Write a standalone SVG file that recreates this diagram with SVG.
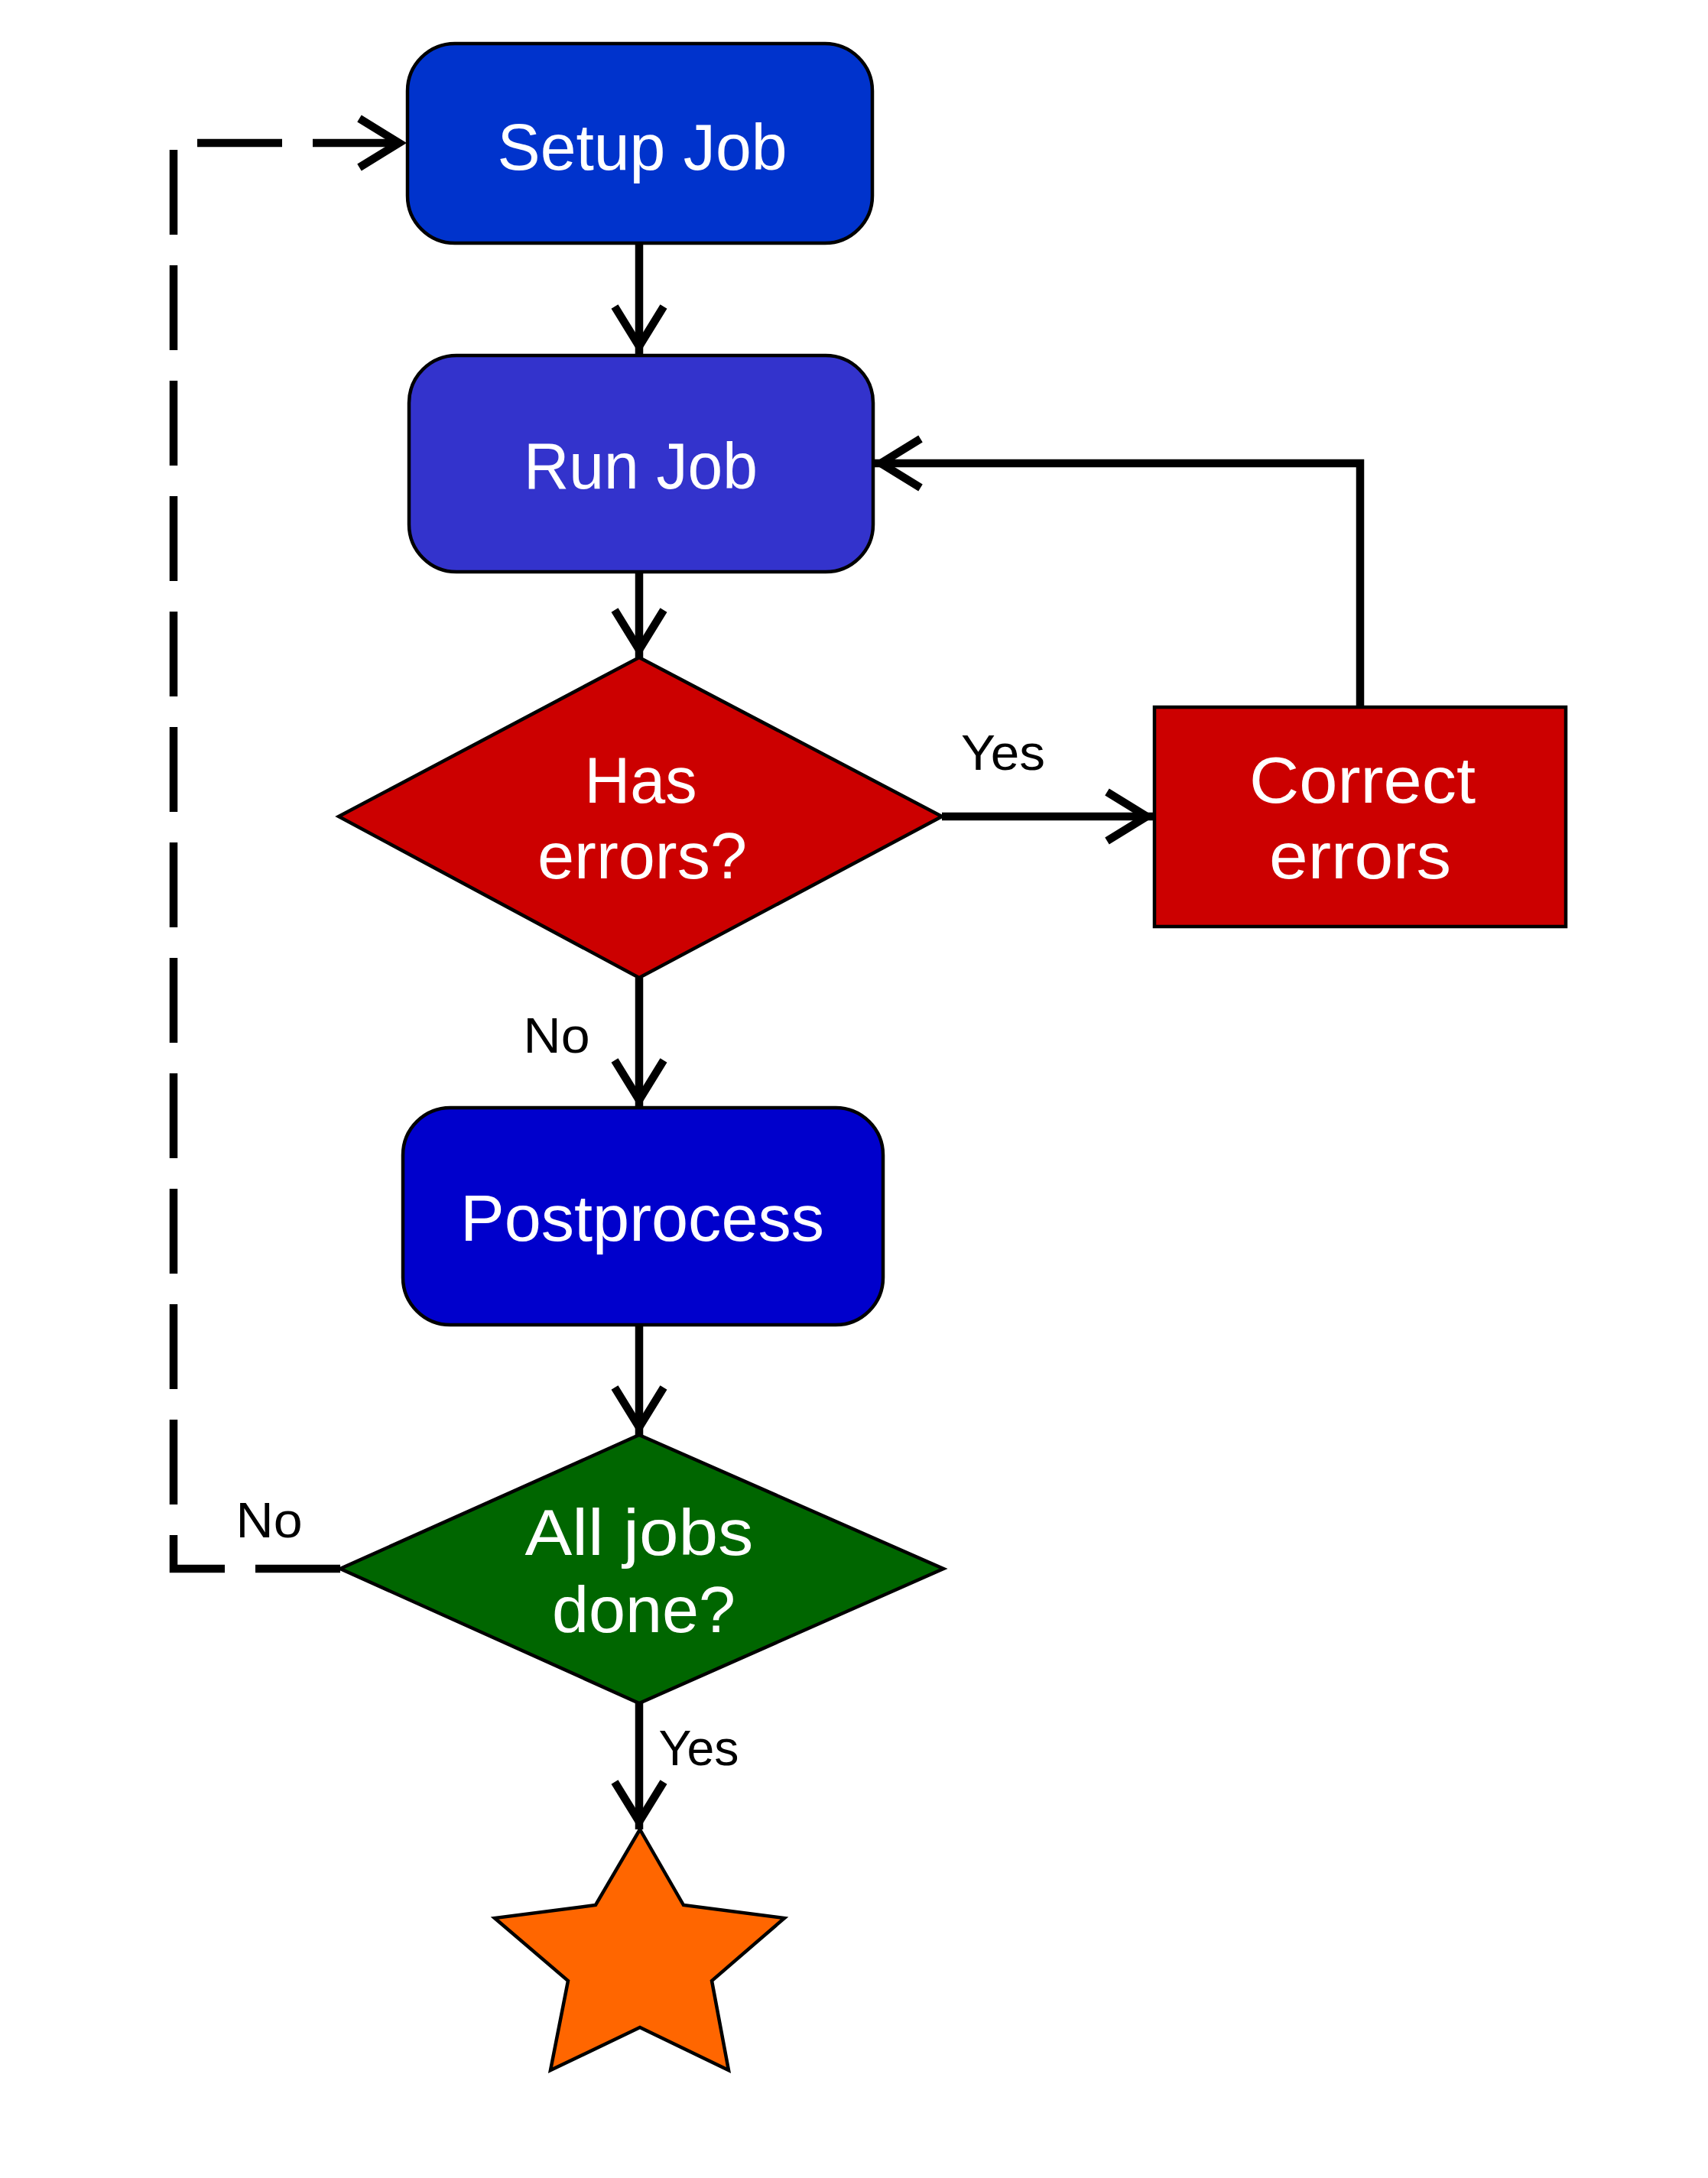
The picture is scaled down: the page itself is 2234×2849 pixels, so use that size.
<svg xmlns="http://www.w3.org/2000/svg" width="2234" height="2849" viewBox="0 0 2234 2849">
<style>
.node{stroke:#000;stroke-width:4.5;stroke-linejoin:miter}
.nt{font-family:"Liberation Sans",Arial,sans-serif;font-size:86px;fill:#fff;text-anchor:middle}
.lb{font-family:"Liberation Sans",Arial,sans-serif;font-size:65px;fill:#000;text-anchor:middle}
.conn{fill:none;stroke:#000;stroke-width:10.5}
.dash{stroke-dasharray:111 40}
</style>
<defs>
<marker id="arrow" markerUnits="userSpaceOnUse" viewBox="-80 -50 100 100" refX="0" refY="0" markerWidth="100" markerHeight="100" orient="auto" overflow="visible">
<path d="M-62,-32 L-10,0 L-62,32" fill="none" stroke="#000" stroke-width="10.5"/>
</marker>
</defs>
<rect width="2234" height="2849" fill="#fff"/>
<g id="connectors">
<path class="conn" d="M836,318 V463" marker-end="url(#arrow)"/>
<path class="conn" d="M836,748 V860" marker-end="url(#arrow)"/>
<path class="conn" d="M1232,1068 H1510" marker-end="url(#arrow)"/>
<path class="conn" d="M1779,925 V606 H1142" marker-end="url(#arrow)"/>
<path class="conn" d="M836,1279 V1449" marker-end="url(#arrow)"/>
<path class="conn" d="M836,1733 V1877" marker-end="url(#arrow)"/>
<path class="conn dash" d="M445,2052 H227 V187 H532" marker-end="url(#arrow)"/>
<path class="conn" d="M836,2228 V2393" marker-end="url(#arrow)"/>
</g>
<g id="setup-job">
<rect class="node" x="533" y="57" width="608" height="261" rx="62" ry="62" fill="#0033CC"/>
<text class="nt" x="840" y="222" textLength="379" lengthAdjust="spacingAndGlyphs">Setup Job</text>
</g>
<g id="run-job">
<rect class="node" x="535" y="465" width="607" height="283" rx="62" ry="62" fill="#3333CC"/>
<text class="nt" x="838" y="639" textLength="306" lengthAdjust="spacingAndGlyphs">Run Job</text>
</g>
<g id="has-errors">
<polygon class="node" points="836,860 1232,1068 836,1279 443,1068" fill="#CC0000"/>
<text class="nt" x="838" y="1050" textLength="147" lengthAdjust="spacingAndGlyphs">Has</text>
<text class="nt" x="840" y="1149" textLength="274" lengthAdjust="spacingAndGlyphs">errors?</text>
</g>
<g id="correct-errors">
<rect class="node" x="1510" y="925" width="538" height="287" fill="#CC0000"/>
<text class="nt" x="1782" y="1050" textLength="296" lengthAdjust="spacingAndGlyphs">Correct</text>
<text class="nt" x="1779" y="1149" textLength="238" lengthAdjust="spacingAndGlyphs">errors</text>
</g>
<g id="postprocess">
<rect class="node" x="527" y="1449" width="628" height="284" rx="62" ry="62" fill="#0000CC"/>
<text class="nt" x="840" y="1623" textLength="476" lengthAdjust="spacingAndGlyphs">Postprocess</text>
</g>
<g id="all-jobs-done">
<polygon class="node" points="836,1877 1234,2052 836,2228 445,2052" fill="#006600"/>
<text class="nt" x="836" y="2034" textLength="299" lengthAdjust="spacingAndGlyphs">All jobs</text>
<text class="nt" x="842" y="2135" textLength="240" lengthAdjust="spacingAndGlyphs">done?</text>
</g>
<g id="end-star">
<polygon class="node" points="837,2393 894,2492 1026,2509 931,2591 953,2708 837,2652 720,2708 743,2591 647,2509 779,2492" fill="#FF6600"/>
</g>
<g id="labels">
<text class="lb" x="1312" y="1007" textLength="110" lengthAdjust="spacingAndGlyphs">Yes</text>
<text class="lb" x="728" y="1377" textLength="87" lengthAdjust="spacingAndGlyphs">No</text>
<text class="lb" x="352" y="2011" textLength="87" lengthAdjust="spacingAndGlyphs">No</text>
<text class="lb" x="914" y="2309" textLength="105" lengthAdjust="spacingAndGlyphs">Yes</text>
</g>
</svg>
